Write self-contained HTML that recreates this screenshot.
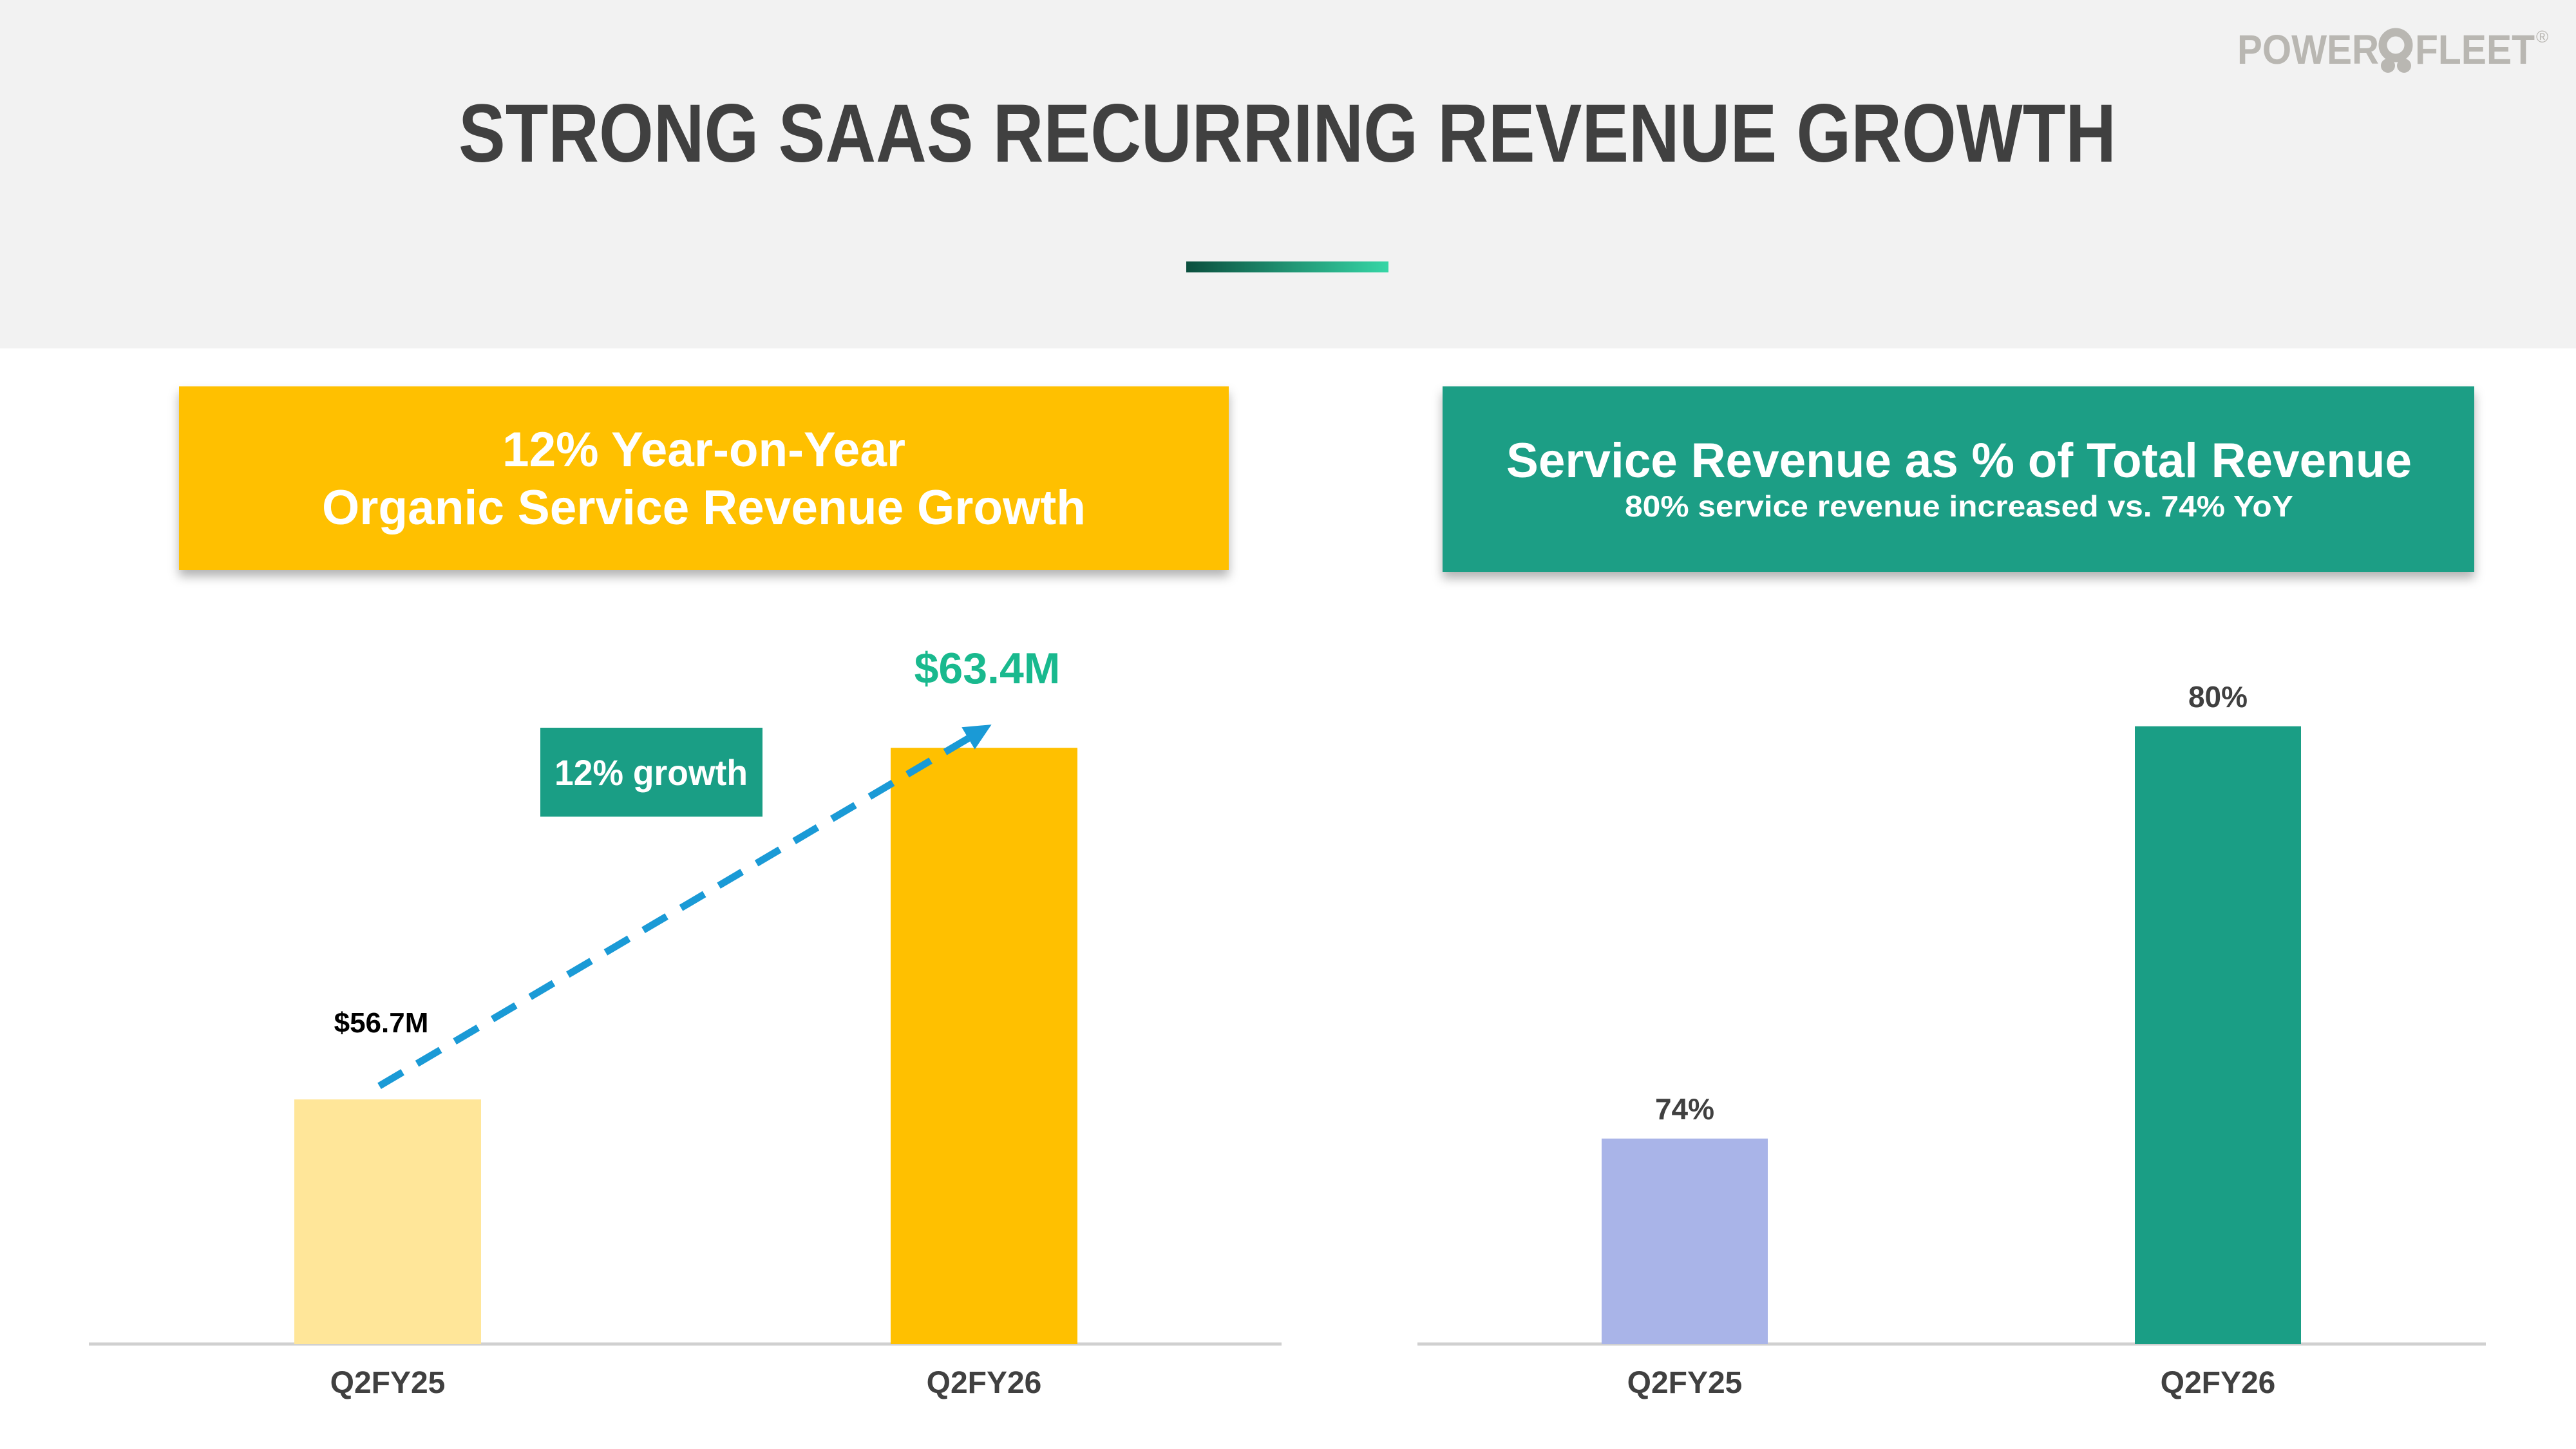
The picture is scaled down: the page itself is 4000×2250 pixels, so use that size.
<!DOCTYPE html>
<html><head><meta charset="utf-8"><style>
html,body{margin:0;padding:0;background:#fff;}
svg{display:block;font-family:"Liberation Sans",Arial,sans-serif;}
</style></head><body>
<svg id="chart" width="4000" height="2250" viewBox="0 0 4000 2250" xmlns="http://www.w3.org/2000/svg">
<defs>
<linearGradient id="gbar" x1="0" x2="1" y1="0" y2="0"><stop offset="0" stop-color="#0b4f3e"/><stop offset="1" stop-color="#36d6a6"/></linearGradient>
<filter id="sh" x="-5%" y="-10%" width="110%" height="130%"><feDropShadow dx="0" dy="10" stdDeviation="8" flood-color="#000" flood-opacity="0.3"/></filter>
</defs>
<rect x="0" y="0" width="4000" height="541" fill="#f2f2f2"/>
<text x="1999" y="251" text-anchor="middle" font-size="128" font-weight="bold" fill="#404040" textLength="2574" lengthAdjust="spacingAndGlyphs">STRONG SAAS RECURRING REVENUE GROWTH</text>
<rect x="1842" y="406" width="314" height="17" fill="url(#gbar)"/>
<g fill="#b9b7b2">
<text x="3474" y="99" font-size="64" font-weight="bold" textLength="220" lengthAdjust="spacingAndGlyphs">POWER</text>
<circle cx="3720" cy="70" r="20" fill="none" stroke="#b9b7b2" stroke-width="13"/>
<circle cx="3708" cy="102" r="11"/><circle cx="3733" cy="102" r="11"/>
<text x="3750" y="99" font-size="64" font-weight="bold" textLength="186" lengthAdjust="spacingAndGlyphs">FLEET</text>
<text x="3938" y="66" font-size="26">®</text>
</g>

<rect x="278" y="600" width="1630" height="285" fill="#ffc000" filter="url(#sh)"/>
<text x="1093" y="724" text-anchor="middle" font-size="76" font-weight="bold" fill="#fff" textLength="626" lengthAdjust="spacingAndGlyphs">12% Year-on-Year</text>
<text x="1093" y="814" text-anchor="middle" font-size="76" font-weight="bold" fill="#fff" textLength="1186" lengthAdjust="spacingAndGlyphs">Organic Service Revenue Growth</text>

<rect x="2240" y="600" width="1602" height="288" fill="#1a9e85" filter="url(#sh)"/>
<text x="3042" y="741" text-anchor="middle" font-size="76" font-weight="bold" fill="#fff" textLength="1406" lengthAdjust="spacingAndGlyphs">Service Revenue as % of Total Revenue</text>
<text x="3042" y="802" text-anchor="middle" font-size="46" font-weight="bold" fill="#fff" textLength="1038" lengthAdjust="spacingAndGlyphs">80% service revenue increased vs. 74% YoY</text>

<g id="left"></g>
<g id="right"></g>
</svg>
<script>
const leftCategories = ["Q2FY25","Q2FY26"];
const leftValues = [56.7, 63.4];
const leftLabels = ["$56.7M","$63.4M"];
const rightCategories = ["Q2FY25","Q2FY26"];
const rightValues = [74, 80];
const rightLabels = ["74%","80%"];
const growthLabel = "12% growth";

const NS = "http://www.w3.org/2000/svg";
function mk(tag, attrs, parent, text){
  const e = document.createElementNS(NS, tag);
  for (const k in attrs) e.setAttribute(k, attrs[k]);
  if (text !== undefined) e.textContent = text;
  parent.appendChild(e);
  return e;
}
const base = 2087;
// left axis: domain min 52.04, 81.5 px per unit
function yL(v){ return base - (v - 52.04) * 81.5; }
function xL(i){ return [602, 1528][i]; }
function yR(v){ return base - (v - 71.01) * 106.7; }
function xR(i){ return [2616, 3444][i]; }

const gl = document.getElementById('left');
const axL = mk('line',{x1:138,x2:1990,y1:base,y2:base,stroke:'#d0d0d0','stroke-width':5},gl);


const lColors = ['#ffe699','#ffc000'];
leftValues.forEach((v,i)=>{
  const y = yL(v);
  const r = mk('rect',{x:xL(i)-145,y:y,width:290,height:base-y,fill:lColors[i]},gl);
  
  
  const t = mk('text',{x:xL(i),y:2163,'text-anchor':'middle','font-size':48,'font-weight':'bold',fill:'#404040'},gl,leftCategories[i]);
  
  
});
const l0 = mk('text',{x:592,y:1603,'text-anchor':'middle','font-size':44,'font-weight':'bold',fill:'#000'},gl,leftLabels[0]);


const l1 = mk('text',{x:1533,y:yL(leftValues[1])-100,'text-anchor':'middle','font-size':68,'font-weight':'bold',fill:'#19b98e'},gl,leftLabels[1]);


// dashed trend arrow
const x0=589,y0=yL(leftValues[0])-21,x1=1531,y1=yL(leftValues[1])-31;
const dl = mk('line',{x1:x0,y1:y0,x2:x1-20,y2:y1+12,stroke:'#1a9ad6','stroke-width':11,'stroke-dasharray':'42 26'},gl);


const ang = Math.atan2(y1-y0,x1-x0);
const ah = mk('polygon',{points:`${x1+10*Math.cos(ang)},${y1+10*Math.sin(ang)} ${x1-32*Math.cos(ang)+20*Math.sin(ang)},${y1-32*Math.sin(ang)-20*Math.cos(ang)} ${x1-32*Math.cos(ang)-20*Math.sin(ang)},${y1-32*Math.sin(ang)+20*Math.cos(ang)}`,fill:'#1a9ad6'},gl);


const gb = mk('rect',{x:839,y:1130,width:345,height:138,fill:'#1a9e85'},gl);


const gt = mk('text',{x:1011,y:1219,'text-anchor':'middle','font-size':56,'font-weight':'bold',fill:'#fff',textLength:300,lengthAdjust:'spacingAndGlyphs'},gl,growthLabel);



const gr = document.getElementById('right');
const axR = mk('line',{x1:2201,x2:3860,y1:base,y2:base,stroke:'#d0d0d0','stroke-width':5},gr);


const rColors = ['#a9b4e8','#1a9e85'];
rightValues.forEach((v,i)=>{
  const y = yR(v);
  const r = mk('rect',{x:xR(i)-129,y:y,width:258,height:base-y,fill:rColors[i]},gr);
  
  
  const lb = mk('text',{x:xR(i),y:y-30,'text-anchor':'middle','font-size':46,'font-weight':'bold',fill:'#404040'},gr,rightLabels[i]);
  
  
  const t = mk('text',{x:xR(i),y:2163,'text-anchor':'middle','font-size':48,'font-weight':'bold',fill:'#404040'},gr,rightCategories[i]);
  
  
});
</script>
</body></html>
